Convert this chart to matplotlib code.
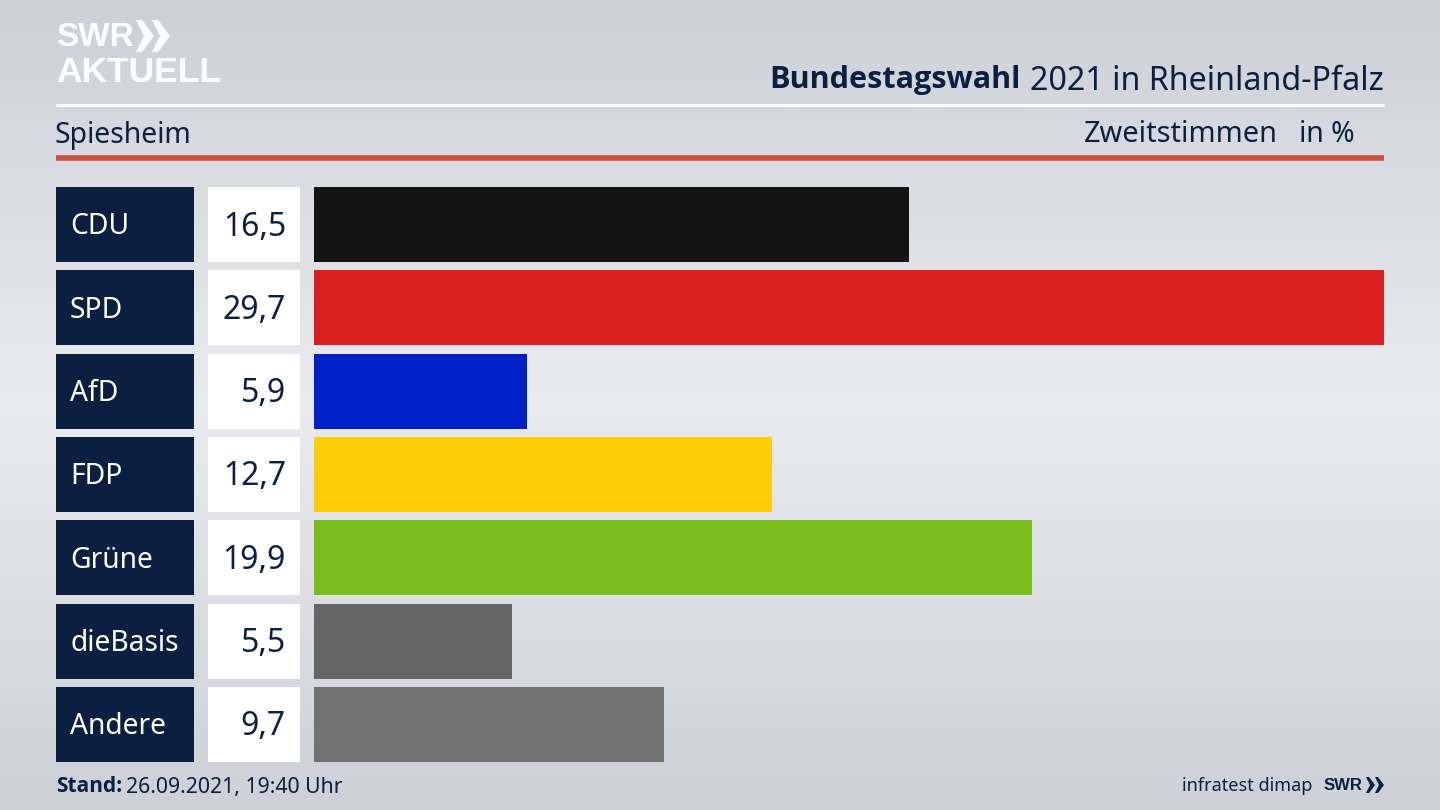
import numpy as np
import matplotlib
matplotlib.use("Agg")
import matplotlib.pyplot as plt
from matplotlib.patches import Polygon

parties = ["CDU", "SPD", "AfD", "FDP", "Grüne", "dieBasis", "Andere"]
values = [16.5, 29.7, 5.9, 12.7, 19.9, 5.5, 9.7]
labels = ["16,5", "29,7", "5,9", "12,7", "19,9", "5,5", "9,7"]
colors = ["#141414", "#d9201f", "#0021c8", "#ffcc08", "#78bd1b", "#666666", "#717172"]

navy = "#0b1f40"
bold = ["Open Sans", "DejaVu Sans"]
logo = ["Liberation Sans", "DejaVu Sans"]
plt.rcParams["font.family"] = ["Noto Sans", "DejaVu Sans"]

fig = plt.figure(figsize=(14.4, 8.1), dpi=100)

# background, lighter in the middle
bg = fig.add_axes([0, 0, 1, 1], zorder=0)
bg.set_axis_off()
t = 1 - np.abs(np.linspace(-1, 1, 200))
top = np.array([0xcd, 0xd0, 0xd7]) / 255.0
mid = np.array([0xea, 0xeb, 0xf0]) / 255.0
img = top[None, :] + t[:, None] * (mid - top)[None, :]
bg.imshow(img[:, None, :], aspect="auto", extent=[0, 1440, 810, 0])
bg.set_xlim(0, 1440)
bg.set_ylim(810, 0)

# bars
ax = fig.add_axes([314 / 1440, (810 - 762) / 810, (1384 - 314) / 1440, (762 - 187) / 810], zorder=2)
ax.set_axis_off()
y = np.arange(len(values))
ax.barh(y, values, height=75 / 83.33, color=colors)
ax.set_xlim(0, 29.65)
ax.set_ylim(6 + 37.5 / 83.33, -37.5 / 83.33)

# overlay in pixel coords for the rest
ov = fig.add_axes([0, 0, 1, 1], zorder=3)
ov.set_axis_off()
ov.patch.set_alpha(0)
ov.set_xlim(0, 1440)
ov.set_ylim(810, 0)

for i, (p, lab) in enumerate(zip(parties, labels)):
    yt = 187 + i * 83.33
    ov.fill_between([56, 194], yt, yt + 75, color=navy, lw=0)
    ov.fill_between([208, 300], yt, yt + 75, color="white", lw=0)
    ov.text(70, yt + 40, p, color="white", fontsize=20.3, va="center", ha="left")
    ov.text(286, yt + 40, lab, color=navy, fontsize=23, va="center", ha="right")

ov.plot([56, 1384], [105, 105], color="white", lw=2.2, solid_capstyle="butt")
ov.plot([56, 1384], [157.5, 157.5], color="#c9503f", lw=4, solid_capstyle="butt")

ov.text(55, 135, "Spiesheim", color=navy, fontsize=20.4, va="center")
ov.text(1278, 135, "Zweitstimmen", color=navy, fontsize=20.8, va="center", ha="right")
ov.text(1355, 135, "in %", color=navy, fontsize=20.4, va="center", ha="right")

ov.text(1384, 81, "2021 in Rheinland-Pfalz", color=navy, fontsize=23.2, va="center", ha="right")
ov.text(1021, 80, "Bundestagswahl", color=navy, fontsize=22.1, fontweight="bold", family=bold, va="center", ha="right")

ov.text(56, 787, "Stand:", color=navy, fontsize=15, fontweight="bold", family=bold, va="center")
ov.text(126, 787, "26.09.2021, 19:40 Uhr", color=navy, fontsize=15.3, va="center")
ov.text(1312, 786, "infratest dimap", color=navy, fontsize=13, va="center", ha="right")
ov.text(1324, 785, "SWR", color=navy, fontsize=12, fontweight="bold", family=logo, va="center")

# logo
ov.text(56, 37, "SWR", color="white", fontsize=24, fontweight="bold", family=logo, va="center")
ov.text(56, 73, "AKTUELL", color="white", fontsize=25.5, fontweight="bold", family=logo, va="center")
for x0 in (136, 152):
    ov.add_patch(Polygon([(x0, 20), (x0 + 6, 20), (x0 + 18, 36), (x0 + 6, 52), (x0, 52), (x0 + 8, 36)], color="white", lw=0))
for x0 in (1366, 1375):
    ov.add_patch(Polygon([(x0, 777), (x0 + 3, 777), (x0 + 9, 785), (x0 + 3, 793), (x0, 793), (x0 + 4, 785)], color=navy, lw=0))

fig.savefig("out.png", dpi=100)
